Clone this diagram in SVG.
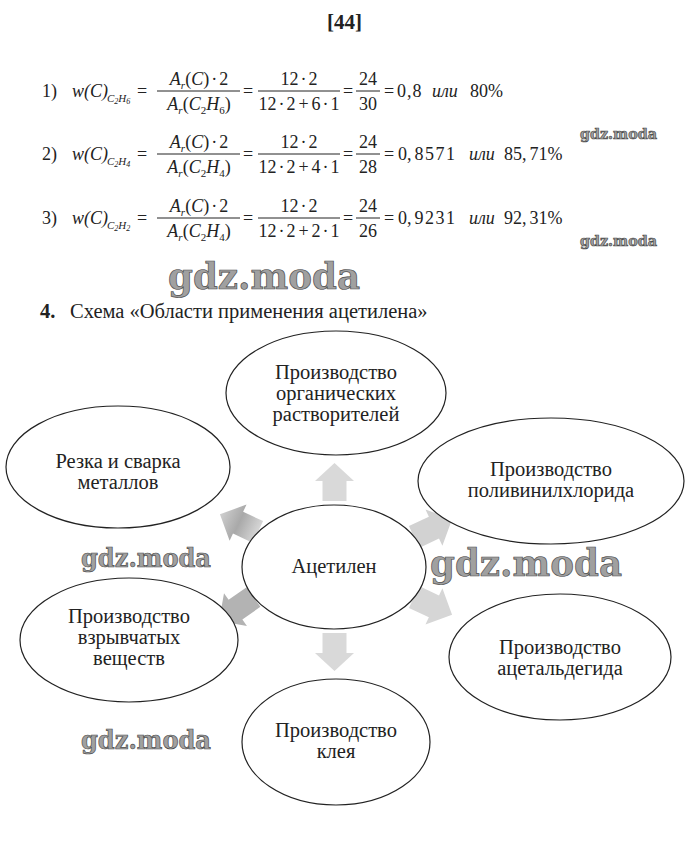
<svg xmlns="http://www.w3.org/2000/svg" width="693" height="853" viewBox="0 0 693 853">
<style>
text { font-family: "Liberation Serif", "Times New Roman", serif; fill: #222; }
.m { font-size: 18px; }
.i { font-style: italic; }
.s { font-size: 11px; }
.ss { font-size: 8px; }
.c { text-anchor: middle; }
.bar { stroke: #222; stroke-width: 1; }
.node ellipse { fill: #fff; stroke: #222; stroke-width: 1.2; }
.node text { font-size: 20.5px; text-anchor: middle; }
.wm { font-family: "DejaVu Serif", serif; font-weight: bold; fill: #a0a0a0; stroke: #4a4a4a; stroke-width: 0.7; }
</style>
<defs>
<path id="a38" d="M0,-12 H20 V-19.5 L38,0 L20,19.5 V12 H0 Z"/>
<path id="a42" d="M0,-12 H22 V-20 L42,0 L22,20 V12 H0 Z"/>
<linearGradient id="gUL" x1="0" y1="0" x2="1" y2="0">
<stop offset="0" stop-color="#d6d6d6"/>
<stop offset="0.5" stop-color="#a9a9a9"/>
<stop offset="1" stop-color="#cfcfcf"/>
</linearGradient>
</defs>
<rect width="693" height="853" fill="#fff"/>

<text x="344.5" y="29" class="c" font-size="21" font-weight="bold">[44]</text>

<g id="formula1">
<text class="m" x="42" y="97">1)</text>
<text class="m i" x="72" y="97">w(C)</text>
<text class="s i" x="107" y="102">C<tspan class="ss" dy="2">2</tspan><tspan dy="-2">H</tspan><tspan class="ss" dy="2">6</tspan></text>
<text class="m" x="137" y="97">=</text>
<line class="bar" x1="157" y1="91" x2="240" y2="91"/>
<text class="m c" x="199" y="85"><tspan class="i">A</tspan><tspan class="s i" dy="4">r</tspan><tspan dy="-4">(</tspan><tspan class="i">C</tspan>)<tspan dx="2">·</tspan><tspan dx="2">2</tspan></text>
<text class="m c" x="199" y="110"><tspan class="i">A</tspan><tspan class="s i" dy="4">r</tspan><tspan dy="-4">(</tspan><tspan class="i">C</tspan><tspan class="s" dy="4">2</tspan><tspan class="i" dy="-4">H</tspan><tspan class="s" dy="4">6</tspan><tspan dy="-4">)</tspan></text>
<text class="m" x="243" y="97">=</text>
<line class="bar" x1="258" y1="91" x2="340" y2="91"/>
<text class="m c" x="299" y="85">12<tspan dx="2">·</tspan><tspan dx="2">2</tspan></text>
<text class="m c" x="299" y="110">12<tspan dx="2">·</tspan><tspan dx="2">2</tspan><tspan dx="3">+</tspan><tspan dx="3">6</tspan><tspan dx="2">·</tspan><tspan dx="2">1</tspan></text>
<text class="m" x="343" y="97">=</text>
<line class="bar" x1="356" y1="91" x2="380" y2="91"/>
<text class="m c" x="368" y="85">24</text>
<text class="m c" x="368" y="110">30</text>
<text class="m" x="384" y="97">=</text>
<text class="m" x="397" y="97" letter-spacing="1">0,8</text>
<text class="m i" x="432" y="97">или</text>
<text class="m" x="470" y="97">80%</text>
</g>

<g id="formula2">
<text class="m" x="42" y="160">2)</text>
<text class="m i" x="72" y="160">w(C)</text>
<text class="s i" x="107" y="165">C<tspan class="ss" dy="2">2</tspan><tspan dy="-2">H</tspan><tspan class="ss" dy="2">4</tspan></text>
<text class="m" x="137" y="160">=</text>
<line class="bar" x1="157" y1="154" x2="240" y2="154"/>
<text class="m c" x="199" y="148"><tspan class="i">A</tspan><tspan class="s i" dy="4">r</tspan><tspan dy="-4">(</tspan><tspan class="i">C</tspan>)<tspan dx="2">·</tspan><tspan dx="2">2</tspan></text>
<text class="m c" x="199" y="173"><tspan class="i">A</tspan><tspan class="s i" dy="4">r</tspan><tspan dy="-4">(</tspan><tspan class="i">C</tspan><tspan class="s" dy="4">2</tspan><tspan class="i" dy="-4">H</tspan><tspan class="s" dy="4">4</tspan><tspan dy="-4">)</tspan></text>
<text class="m" x="243" y="160">=</text>
<line class="bar" x1="258" y1="154" x2="340" y2="154"/>
<text class="m c" x="299" y="148">12<tspan dx="2">·</tspan><tspan dx="2">2</tspan></text>
<text class="m c" x="299" y="173">12<tspan dx="2">·</tspan><tspan dx="2">2</tspan><tspan dx="3">+</tspan><tspan dx="3">4</tspan><tspan dx="2">·</tspan><tspan dx="2">1</tspan></text>
<text class="m" x="343" y="160">=</text>
<line class="bar" x1="356" y1="154" x2="380" y2="154"/>
<text class="m c" x="368" y="148">24</text>
<text class="m c" x="368" y="173">28</text>
<text class="m" x="384" y="160">=</text>
<text class="m" x="398" y="160">0,<tspan dx="3" letter-spacing="1.5">8571</tspan></text>
<text class="m i" x="469" y="160">или</text>
<text class="m" x="504" y="160">85,<tspan dx="3">71%</tspan></text>
</g>

<g id="formula3">
<text class="m" x="42" y="224">3)</text>
<text class="m i" x="72" y="224">w(C)</text>
<text class="s i" x="107" y="229">C<tspan class="ss" dy="2">2</tspan><tspan dy="-2">H</tspan><tspan class="ss" dy="2">2</tspan></text>
<text class="m" x="137" y="224">=</text>
<line class="bar" x1="157" y1="218" x2="240" y2="218"/>
<text class="m c" x="199" y="212"><tspan class="i">A</tspan><tspan class="s i" dy="4">r</tspan><tspan dy="-4">(</tspan><tspan class="i">C</tspan>)<tspan dx="2">·</tspan><tspan dx="2">2</tspan></text>
<text class="m c" x="199" y="237"><tspan class="i">A</tspan><tspan class="s i" dy="4">r</tspan><tspan dy="-4">(</tspan><tspan class="i">C</tspan><tspan class="s" dy="4">2</tspan><tspan class="i" dy="-4">H</tspan><tspan class="s" dy="4">4</tspan><tspan dy="-4">)</tspan></text>
<text class="m" x="243" y="224">=</text>
<line class="bar" x1="258" y1="218" x2="340" y2="218"/>
<text class="m c" x="299" y="212">12<tspan dx="2">·</tspan><tspan dx="2">2</tspan></text>
<text class="m c" x="299" y="237">12<tspan dx="2">·</tspan><tspan dx="2">2</tspan><tspan dx="3">+</tspan><tspan dx="3">2</tspan><tspan dx="2">·</tspan><tspan dx="2">1</tspan></text>
<text class="m" x="343" y="224">=</text>
<line class="bar" x1="356" y1="218" x2="380" y2="218"/>
<text class="m c" x="368" y="212">24</text>
<text class="m c" x="368" y="237">26</text>
<text class="m" x="384" y="224">=</text>
<text class="m" x="398" y="224">0,<tspan dx="3" letter-spacing="1.5">9231</tspan></text>
<text class="m i" x="469" y="224">или</text>
<text class="m" x="504" y="224">92,<tspan dx="3">31%</tspan></text>
</g>

<g id="heading">
<text x="40" y="318" font-size="20.5" font-weight="bold">4.</text>
<text x="70" y="318" font-size="20.5">Схема «Области применения ацетилена»</text>
</g>

<g id="connectors">
<use href="#a38" fill="#d9d9d9" transform="translate(334.5,501) rotate(-90)"/>
<use href="#a38" fill="#d9d9d9" transform="translate(334.5,633) rotate(90)"/>
<use href="#a42" fill="url(#gUL)" transform="translate(258,532) rotate(205)"/>
<use href="#a42" fill="#d2d2d2" transform="translate(414,537) rotate(-25)"/>
<use href="#a42" fill="#b3b3b3" transform="translate(253.5,597) rotate(145)"/>
<use href="#a42" fill="#d6d6d6" transform="translate(414,597) rotate(25)"/>
</g>

<g id="node-top" class="node">
<ellipse cx="336" cy="393" rx="110" ry="62"/>
<text x="336" y="379">Производство</text>
<text x="336" y="400">органических</text>
<text x="336" y="421">растворителей</text>
</g>
<g id="node-left" class="node">
<ellipse cx="118" cy="467" rx="112" ry="61"/>
<text x="118" y="468">Резка и сварка</text>
<text x="118" y="489">металлов</text>
</g>
<g id="node-right" class="node">
<ellipse cx="551" cy="481" rx="133" ry="63"/>
<text x="551" y="476">Производство</text>
<text x="551" y="497">поливинилхлорида</text>
</g>
<g id="node-center" class="node">
<ellipse cx="334" cy="567" rx="92" ry="62"/>
<text x="334" y="573">Ацетилен</text>
</g>
<g id="node-leftbottom" class="node">
<ellipse cx="129" cy="640" rx="109" ry="62"/>
<text x="129" y="623">Производство</text>
<text x="129" y="644">взрывчатых</text>
<text x="129" y="665">веществ</text>
</g>
<g id="node-rightbottom" class="node">
<ellipse cx="560" cy="657" rx="111" ry="63"/>
<text x="560" y="654">Производство</text>
<text x="560" y="675">ацетальдегида</text>
</g>
<g id="node-bottom" class="node">
<ellipse cx="336" cy="742" rx="94" ry="63"/>
<text x="336" y="737">Производство</text>
<text x="336" y="758">клея</text>
</g>

<g id="watermarks">
<text class="wm" x="580" y="139" font-size="15" textLength="77" lengthAdjust="spacingAndGlyphs">gdz.moda</text>
<text class="wm" x="580" y="246" font-size="15" textLength="77" lengthAdjust="spacingAndGlyphs">gdz.moda</text>
<text class="wm" x="168" y="289" font-size="37" textLength="192" lengthAdjust="spacingAndGlyphs">gdz.moda</text>
<text class="wm" x="81" y="567" font-size="26" textLength="130" lengthAdjust="spacingAndGlyphs">gdz.moda</text>
<text class="wm" x="430" y="576" font-size="38" textLength="192" lengthAdjust="spacingAndGlyphs">gdz.moda</text>
<text class="wm" x="81" y="749" font-size="26" textLength="130" lengthAdjust="spacingAndGlyphs">gdz.moda</text>
</g>
</svg>
